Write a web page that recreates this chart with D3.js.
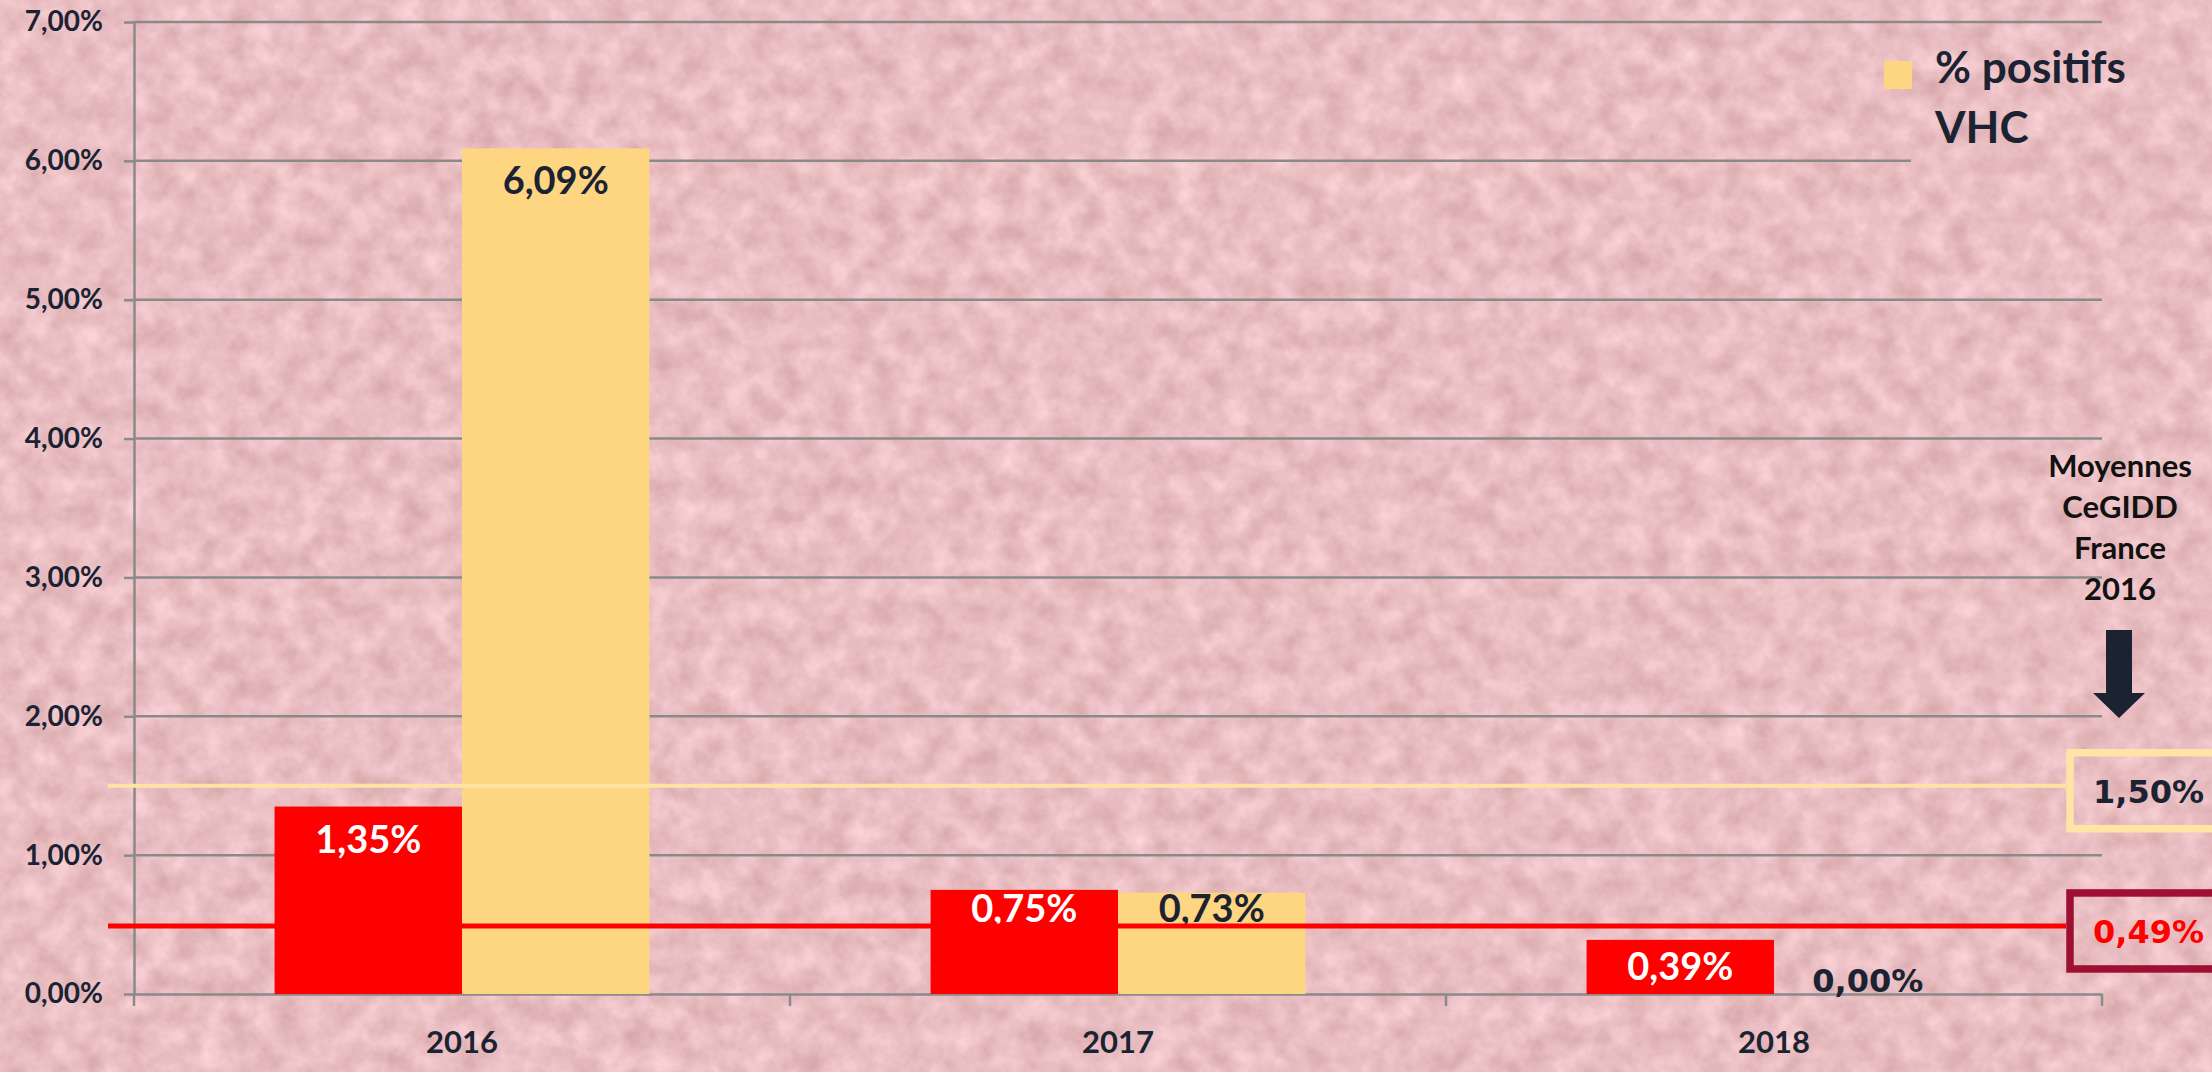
<!DOCTYPE html>
<html>
<head>
<meta charset="utf-8">
<script src="https://cdn.jsdelivr.net/npm/d3@7"></script>
<style>
  body { margin: 0; background: #e9bfc3; overflow: hidden; }
</style>
</head>
<body>
<script>
// données (en %)
var annees = ["2016", "2017", "2018"];
var series = ["rouge", "VHC"];
var valeursRouge = [1.35, 0.75, 0.39];
var valeursVHC = [6.09, 0.73, 0.00];
var graduations = [0, 1, 2, 3, 4, 5, 6, 7];
var moyenneVHC = 1.50;
var moyenneRouge = 0.49;
var legende = ["% positifs", "VHC"];
var noteMoyennes = ["Moyennes", "CeGIDD", "France", "2016"];

var couleurs = { rouge: "#ff0000", VHC: "#fed581" };
var encre = "#1b2333";
var gris = "#8a8a8a";
var calibri = "Lato, 'Open Sans', sans-serif";
var verdana = "'DejaVu Sans', Verdana, sans-serif";

var fr = d3.formatLocale({ decimal: ",", thousands: " ", grouping: [3], currency: ["", " €"] });
var f2 = fr.format(".2f");
function pct(v) { return f2(v) + "%"; }

var lignes = annees.map(function(a, i) {
  return { annee: a, rouge: valeursRouge[i], VHC: valeursVHC[i] };
});

var svg = d3.select("body").append("svg")
  .attr("width", 2212)
  .attr("height", 1072);

// texture papier rose
var filtre = svg.append("defs").append("filter")
  .attr("id", "papier")
  .attr("x", 0).attr("y", 0).attr("width", 1).attr("height", 1)
  .attr("color-interpolation-filters", "sRGB");
filtre.append("feTurbulence")
  .attr("type", "fractalNoise")
  .attr("baseFrequency", 0.04)
  .attr("numOctaves", 4)
  .attr("seed", 7);
filtre.append("feColorMatrix")
  .attr("type", "matrix")
  .attr("values", "0.18 0 0 0 0.825  0.22 0 0 0 0.635  0.22 0 0 0 0.65  0 0 0 0 1");

svg.append("rect")
  .attr("width", 2212)
  .attr("height", 1072)
  .attr("filter", "url(#papier)");

var x = d3.scaleBand().domain(annees).range([134, 2102]);
var x1 = d3.scaleBand().domain(series).range([0, x.bandwidth()]).paddingOuter(0.75);
var y = d3.scaleLinear().domain([0, 7]).range([994, 22]);

// quadrillage
svg.append("g").selectAll("line")
  .data(graduations.slice(1))
  .join("line")
  .attr("x1", x.range()[0])
  .attr("x2", x.range()[1])
  .attr("y1", function(d) { return y(d); })
  .attr("y2", function(d) { return y(d); })
  .attr("stroke", gris)
  .attr("stroke-width", 2.5);

// axe vertical
var axeY = svg.append("g")
  .attr("transform", "translate(" + x.range()[0] + ",0)")
  .call(d3.axisLeft(y).tickValues(graduations).tickSize(10).tickSizeOuter(0).tickPadding(21).tickFormat(pct));
axeY.selectAll("path, line").attr("stroke", gris).attr("stroke-width", 2.5);
axeY.selectAll("text")
  .attr("fill", encre)
  .style("font-family", calibri)
  .style("font-weight", "bold")
  .style("font-size", "28px");

// axe horizontal
var axeX = svg.append("g")
  .attr("transform", "translate(0," + y(0) + ")")
  .call(d3.axisBottom(x).tickSize(0).tickSizeOuter(0).tickPadding(37));
axeX.select("path").attr("stroke", gris).attr("stroke-width", 2.5);
axeX.selectAll("text")
  .attr("fill", encre)
  .style("font-family", calibri)
  .style("font-weight", "bold")
  .style("font-size", "31px");

var bords = annees.map(function(a) { return x(a); }).concat([x.range()[1]]);
axeX.selectAll("line.bord")
  .data(bords)
  .join("line")
  .attr("class", "bord")
  .attr("x1", function(d) { return d; })
  .attr("x2", function(d) { return d; })
  .attr("y1", 0)
  .attr("y2", 12)
  .attr("stroke", gris)
  .attr("stroke-width", 2.5);

// fond de la légende (cache le quadrillage)
svg.append("rect")
  .attr("x", 1911)
  .attr("y", 28)
  .attr("width", 301)
  .attr("height", 160)
  .attr("filter", "url(#papier)");

// barres
var groupes = svg.append("g").selectAll("g")
  .data(lignes)
  .join("g")
  .attr("transform", function(d) { return "translate(" + x(d.annee) + ",0)"; });

var barres = groupes.selectAll("g")
  .data(function(d) { return series.map(function(s) { return { serie: s, valeur: d[s] }; }); })
  .join("g");

barres.append("rect")
  .attr("x", function(d) { return x1(d.serie); })
  .attr("y", function(d) { return y(d.valeur); })
  .attr("width", x1.bandwidth())
  .attr("height", function(d) { return y(0) - y(d.valeur); })
  .attr("fill", function(d) { return couleurs[d.serie]; });

// lignes des moyennes
var moyennes = [
  { valeur: moyenneVHC, ligne: "#ffe3a3", cadre: "#ffe4a6", texte: encre, epaisseur: 4 },
  { valeur: moyenneRouge, ligne: "#ff0000", cadre: "#9e0f31", texte: "#ff0000", epaisseur: 5 }
];

svg.append("g").selectAll("line")
  .data(moyennes)
  .join("line")
  .attr("x1", 108)
  .attr("x2", 2066)
  .attr("y1", function(d) { return y(d.valeur); })
  .attr("y2", function(d) { return y(d.valeur); })
  .attr("stroke", function(d) { return d.ligne; })
  .attr("stroke-width", function(d) { return d.epaisseur; });

// position de l'étiquette : dans la barre, au-dessus de la ligne rouge si elle la coupe
function basEtiquette(d) {
  if (d.valeur === 0) return y(0) - 2;
  var haut = y(d.valeur);
  var b = Math.min(haut + 46, y(0) - 14);
  var ligneRouge = y(moyenneRouge);
  if (haut < ligneRouge && b > ligneRouge - 4) b = ligneRouge - 4;
  return b;
}

// étiquettes des barres
barres.append("text")
  .attr("x", function(d) { return x1(d.serie) + x1.bandwidth() / 2; })
  .attr("y", basEtiquette)
  .attr("text-anchor", "middle")
  .attr("fill", function(d) { return d.serie === "rouge" ? "#ffffff" : encre; })
  .style("font-family", function(d) { return d.valeur === 0 ? verdana : calibri; })
  .style("font-weight", "bold")
  .style("font-size", function(d) { return d.valeur === 0 ? "32px" : "38px"; })
  .text(function(d) { return pct(d.valeur); });

// cadres des moyennes
var cadres = svg.append("g").selectAll("g")
  .data(moyennes)
  .join("g");

cadres.append("rect")
  .attr("x", 2070)
  .attr("y", function(d) { return y(d.valeur) + 5 - 38; })
  .attr("width", 200)
  .attr("height", 76)
  .attr("fill", "none")
  .attr("stroke", function(d) { return d.cadre; })
  .attr("stroke-width", 7.5);

cadres.append("text")
  .attr("x", 2093)
  .attr("y", function(d) { return y(d.valeur) + 5 + 12; })
  .attr("fill", function(d) { return d.texte; })
  .style("font-family", verdana)
  .style("font-weight", "bold")
  .style("font-size", "32px")
  .text(function(d) { return pct(d.valeur); });

// note "Moyennes CeGIDD France 2016" et flèche
svg.append("g").selectAll("text")
  .data(noteMoyennes)
  .join("text")
  .attr("x", 2120)
  .attr("y", function(d, i) { return 477 + i * 41; })
  .attr("text-anchor", "middle")
  .attr("fill", "#111111")
  .style("font-family", calibri)
  .style("font-weight", "bold")
  .style("font-size", "31px")
  .text(function(d) { return d; });

svg.append("path")
  .attr("d", "M2106,630 L2132,630 L2132,693 L2145,693 L2119,718 L2093,693 L2106,693 Z")
  .attr("fill", encre);

// légende
svg.append("rect")
  .attr("x", 1884)
  .attr("y", 61)
  .attr("width", 28)
  .attr("height", 28)
  .attr("fill", couleurs.VHC);

svg.append("g").selectAll("text")
  .data(legende)
  .join("text")
  .attr("x", 1935)
  .attr("y", function(d, i) { return 83 + i * 60; })
  .attr("fill", encre)
  .style("font-family", calibri)
  .style("font-weight", "bold")
  .style("font-size", "44px")
  .text(function(d) { return d; });
</script>
</body>
</html>
